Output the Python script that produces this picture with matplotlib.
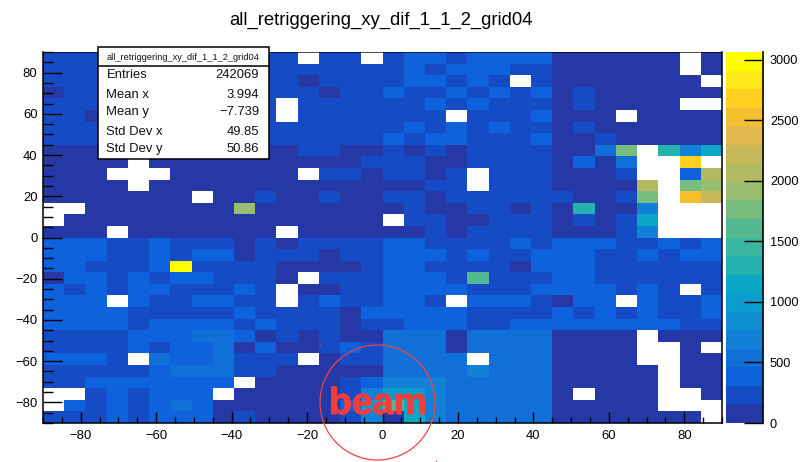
import numpy as np
import matplotlib
matplotlib.use("Agg")
import matplotlib.pyplot as plt
import matplotlib.patheffects as pe
from matplotlib.colors import ListedColormap, BoundaryNorm
from matplotlib.patches import Circle, Rectangle
from matplotlib.ticker import MultipleLocator

plt.rcParams['font.family'] = ['Liberation Sans', 'DejaVu Sans']

title = "all_retriggering_xy_dif_1_1_2_grid04"

x_edges = np.linspace(-90, 90, 33)
y_edges = np.linspace(-90, 90, 33)

# counts per bin, top row first, 0 = empty bin (drawn white)
r00 = [230,230,230,230,230,230,230,230,230,230,230,230,0,230,230,0,230,385,385,230,385,385,385,385,75,75,75,75,75,75,0,75]
r01 = [230,230,230,230,230,230,230,230,230,230,230,230,230,230,230,230,230,385,230,385,385,385,230,230,75,75,75,75,75,75,0,75]
r02 = [230,230,230,230,230,230,230,230,230,230,230,230,75,230,230,230,230,385,385,230,385,230,0,230,75,75,75,75,75,75,75,0]
r03 = [75,230,230,230,230,230,230,230,230,230,230,230,230,75,230,230,385,230,230,385,230,385,230,385,75,230,75,75,75,75,75,75]
r04 = [230,230,230,230,230,230,230,230,230,230,230,0,230,230,230,230,230,230,385,230,385,230,230,230,75,230,75,75,75,75,0,0]
r05 = [230,230,75,230,230,230,230,230,230,230,230,0,230,230,230,230,230,230,230,0,230,230,230,385,75,75,75,0,75,75,75,75]
r06 = [230,230,230,230,230,230,230,230,230,230,230,230,230,230,230,230,230,385,230,385,230,385,230,230,75,230,75,75,75,75,75,75]
r07 = [230,230,230,230,230,230,230,230,230,230,230,230,230,230,230,230,385,230,385,385,230,230,230,385,75,75,230,75,75,75,75,75]
r08 = [75,75,75,75,75,75,75,75,75,75,75,75,230,230,75,75,230,75,230,75,230,230,230,230,75,75,535,1763,0,1303,688,1147]
r09 = [75,75,75,75,0,75,75,75,75,75,75,75,75,75,75,230,230,230,75,75,230,230,230,230,75,385,75,535,0,0,2683,0]
r10 = [75,75,75,0,0,0,75,75,75,75,75,75,0,230,230,75,230,230,75,230,0,230,230,230,75,75,75,230,0,0,385,2070]
r11 = [75,75,75,75,0,75,75,75,75,75,75,75,75,75,75,75,75,75,230,230,0,230,230,230,75,75,75,75,2070,0,1763,1916]
r12 = [75,75,75,75,75,75,75,0,75,75,230,75,75,230,75,75,230,230,75,230,230,230,230,230,230,75,75,230,1763,0,2530,2223]
r13 = [0,0,75,75,75,75,75,75,75,1916,75,75,75,75,75,75,75,230,75,75,230,230,75,230,75,1303,75,75,688,0,0,0]
r14 = [0,75,75,75,75,75,75,75,75,75,75,75,75,75,75,75,0,230,230,75,75,230,230,230,75,230,75,230,1147,0,0,0]
r15 = [75,75,75,0,75,75,75,75,75,75,75,0,75,75,75,75,75,75,230,75,230,230,230,230,75,75,75,230,688,0,0,0]
r16 = [385,385,385,230,230,385,230,230,230,75,230,75,230,230,230,230,385,385,230,230,230,230,385,230,385,385,385,230,230,385,230,385]
r17 = [385,385,385,230,230,385,230,385,385,75,230,230,230,75,230,230,385,385,385,230,385,230,230,385,385,385,230,230,385,230,385,385]
r18 = [385,385,230,230,230,385,3040,230,230,230,230,75,75,75,75,230,385,385,230,230,230,230,75,385,385,385,230,230,230,230,230,230]
r19 = [75,385,385,230,385,230,385,385,230,230,230,75,0,230,230,230,385,385,385,230,1610,230,230,230,385,385,230,230,230,230,230,230]
r20 = [385,230,385,230,385,385,230,230,230,385,230,0,75,75,230,230,385,385,385,385,230,230,230,385,385,385,385,230,385,230,0,230]
r21 = [385,385,385,0,385,230,230,385,385,230,230,0,230,385,230,230,385,385,230,0,385,385,385,230,75,385,385,0,385,230,230,385]
r22 = [385,385,385,385,230,230,230,230,230,385,230,230,230,230,75,385,385,385,385,385,230,230,230,230,385,230,385,230,385,230,230,385]
r23 = [385,385,385,385,230,385,385,385,385,230,385,230,230,230,75,230,230,385,385,385,230,230,385,385,385,385,385,385,385,385,230,230]
r24 = [230,230,230,230,385,385,385,535,535,385,75,230,75,230,75,75,535,535,535,75,535,535,535,535,75,75,75,75,0,75,75,75]
r25 = [230,230,230,230,385,230,385,385,535,75,385,75,75,230,385,230,535,535,535,75,535,535,535,535,75,75,75,75,0,0,75,0]
r26 = [385,385,385,230,0,535,385,385,535,230,230,230,0,75,230,230,535,535,535,535,0,535,535,535,75,75,75,75,0,0,75,75]
r27 = [230,230,230,230,230,385,535,535,535,230,230,75,75,75,75,75,535,535,535,535,688,535,535,535,75,75,75,75,75,0,75,75]
r28 = [230,230,385,385,385,385,385,385,385,0,75,75,75,75,230,385,688,688,688,535,535,535,535,535,75,75,75,75,75,0,75,75]
r29 = [0,0,230,385,230,385,385,385,0,75,75,75,75,75,230,688,993,993,688,535,535,535,535,535,75,0,75,75,75,0,0,75]
r30 = [0,385,230,385,230,385,535,385,75,75,75,75,75,75,385,993,1610,1147,688,535,535,535,535,535,75,75,75,75,75,0,0,0]
r31 = [230,230,230,385,230,385,385,385,75,230,75,75,75,75,230,688,75,1147,688,535,535,535,535,535,75,75,75,75,75,75,75,0]

rows = [r00,r01,r02,r03,r04,r05,r06,r07,r08,r09,r10,r11,r12,r13,r14,r15,
        r16,r17,r18,r19,r20,r21,r22,r23,r24,r25,r26,r27,r28,r29,r30,r31]

z_max = 3066
z_ticks = [0, 500, 1000, 1500, 2000, 2500, 3000]

palette = ["#2638a6", "#154cc6", "#0e62dc", "#1070d8", "#1280d6", "#0e8ed0", "#0a9ccc",
           "#0aa8c6", "#24b2ae", "#3ab6a0", "#54b992", "#78bc80", "#98bf70", "#b2bb62",
           "#c8b858", "#e0b84c", "#f5c030", "#ffd020", "#ffe818", "#ffff00"]

stat_names = ["Entries", "Mean x", "Mean y", "Std Dev x", "Std Dev y"]
stat_values = ["242069", "3.994", "\u22127.739", "49.85", "50.86"]
stat_rows_y = [75, 95, 112, 132, 149]

counts = np.array(rows[::-1], dtype=float)
counts = np.ma.masked_where(counts == 0, counts)

W, H = 801, 462
fig = plt.figure(figsize=(W / 100, H / 100), dpi=100, facecolor="white")


def rect(x0, y0, x1, y1):
    return [x0 / W, 1 - y1 / H, (x1 - x0) / W, (y1 - y0) / H]


ax = fig.add_axes(rect(43, 52, 722, 423))
cax = fig.add_axes(rect(725.5, 52, 763, 423))

cmap = ListedColormap(palette)
cmap.set_bad("white")
norm = BoundaryNorm(np.linspace(0, z_max, len(palette) + 1), len(palette))
mesh = ax.pcolormesh(x_edges, y_edges, counts, cmap=cmap, norm=norm)

ax.set_xlim(-90, 90)
ax.set_ylim(-90, 90)
ax.xaxis.set_major_locator(MultipleLocator(20))
ax.xaxis.set_minor_locator(MultipleLocator(5))
ax.yaxis.set_major_locator(MultipleLocator(20))
ax.yaxis.set_minor_locator(MultipleLocator(5))
ax.tick_params(axis="x", which="major", direction="in", length=8, width=1, labelsize=9.4, pad=5)
ax.tick_params(axis="x", which="minor", direction="in", length=4.5, width=1)
ax.tick_params(axis="y", which="major", direction="in", length=14, width=1, labelsize=9.4, pad=4)
ax.tick_params(axis="y", which="minor", direction="in", length=7, width=1)
for s in ax.spines.values():
    s.set_linewidth(1.1)
ax.spines["top"].set_linewidth(0.5)

cb = fig.colorbar(mesh, cax=cax, spacing="proportional", drawedges=False)
cb.outline.set_visible(False)
cb.set_ticks(z_ticks)
cb.minorticks_off()
cax.tick_params(axis="y", which="major", direction="in", length=14, width=1, labelsize=9.2, pad=5, right=True)
cax.plot([1, 1], [0, 1], transform=cax.transAxes, color="black", lw=1.2, clip_on=False)

# overlay in picture pixels for the stats box and the hand drawn beam mark
over = fig.add_axes([0, 0, 1, 1], facecolor="none")
over.set_xlim(0, W)
over.set_ylim(H, 0)
over.axis("off")

over.text(381, 20.5, title, fontsize=13.3, ha="center", va="center", color="black")

over.add_patch(Rectangle((97.5, 47), 171, 111.5, facecolor="white", edgecolor="black", lw=1.1))
over.plot([97.5, 268.5], [65.5, 65.5], color="black", lw=1.1)
over.text(183, 57, title, fontsize=6.65, ha="center", va="center", color="#111111")
for name, value, y in zip(stat_names, stat_values, stat_rows_y):
    over.text(106.5, y, name, fontsize=9.4, ha="left", va="center", color="#111111")
    over.text(259, y, value, fontsize=9.4, ha="right", va="center", color="#111111")

over.add_patch(Circle((377.5, 402.5), 57.5, fill=False, edgecolor="#f04444", lw=0.9, clip_on=False))
beam = over.text(378, 404, "beam", fontsize=27, fontweight="bold", ha="center", va="center", color="#f83c3c")
beam.set_path_effects([pe.withStroke(linewidth=0.7, foreground="#f83c3c")])
over.plot([320, 436], [345, 461], ls="none", marker="s", ms=0.9, mew=0, color="#f04444")

fig.savefig("out.png", dpi=100, facecolor="white")
